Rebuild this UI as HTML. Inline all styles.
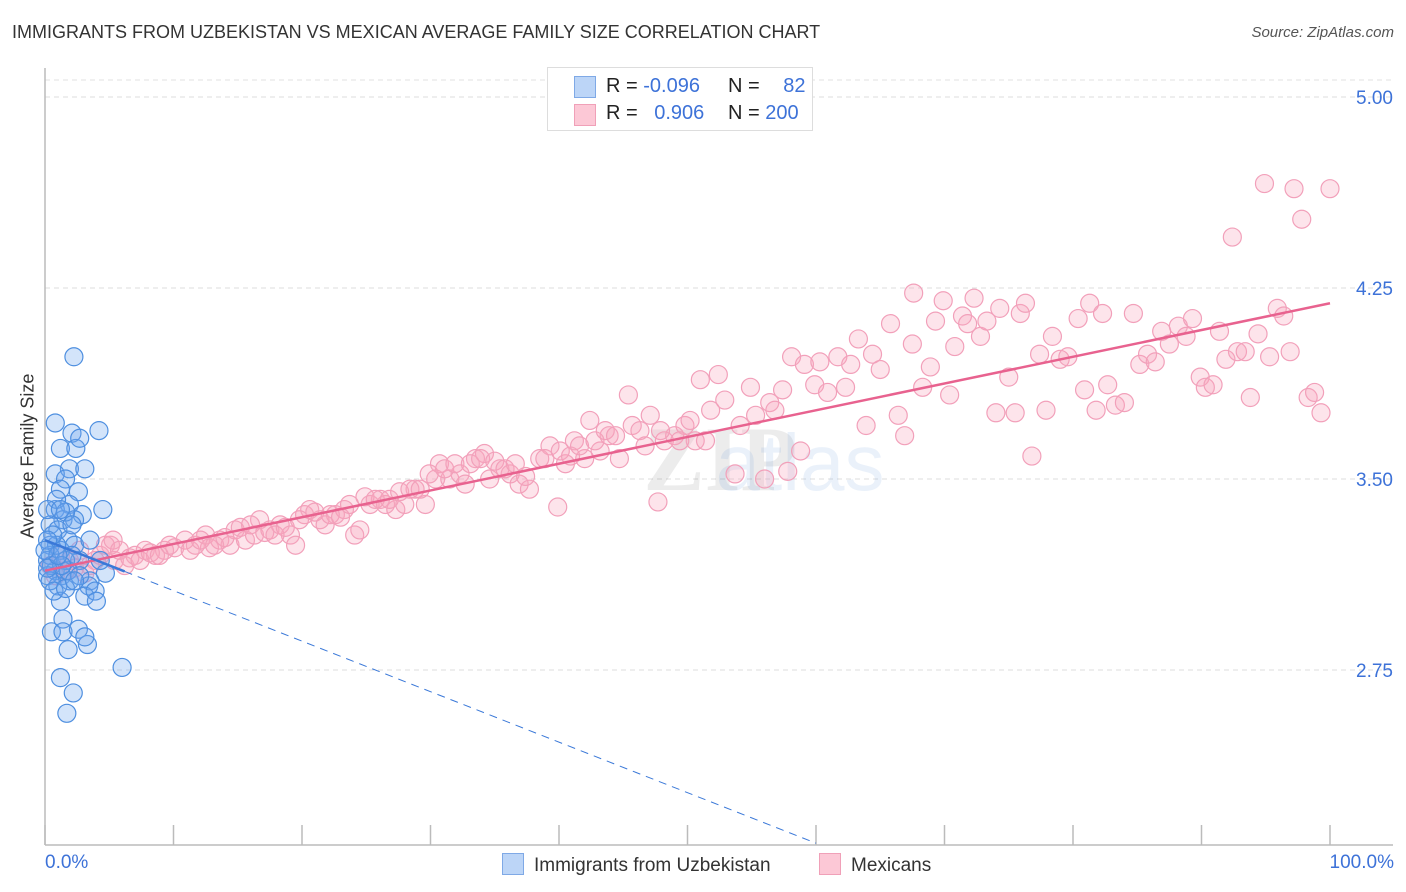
<!DOCTYPE html>
<html><head><meta charset="utf-8"><style>
body{margin:0;background:#fff;font-family:"Liberation Sans",sans-serif;}
#wrap{position:relative;width:1406px;height:892px;overflow:hidden;}
.t{position:absolute;white-space:nowrap;}
</style></head><body>
<div id="wrap">
<div class="t" style="left:12px;top:22px;font-size:18px;color:#333;">IMMIGRANTS FROM UZBEKISTAN VS MEXICAN AVERAGE FAMILY SIZE CORRELATION CHART</div>
<div class="t" style="right:12px;top:24px;font-size:15px;color:#555;font-style:italic;">Source: ZipAtlas.com</div>
<svg id="svg" width="1406" height="892" style="position:absolute;left:0;top:0"></svg>
</div>
<script>
const yTicks=[2.75,3.5,4.25,5.0];
const yTickLabels=["2.75","3.50","4.25","5.00"];
const xTickLabels=["0.0%","100.0%"];
const blueX=[2.25,0.8,2.1,4.2,1.2,2.4,2.7,1.9,3.1,0.8,1.6,1.2,2.6,1.9,0.8,4.5,2.9,1.4,0.4,1.0,2.3,1.8,0.4,1.2,2.3,3.5,0.2,0.8,1.3,1.9,0.2,1.0,2.7,3.5,4.7,3.4,1.2,3.1,3.9,4.0,1.4,0.5,1.4,2.6,3.3,1.8,6.0,1.2,2.2,1.7,3.1,0.4,0.5,0.9,1.6,1.8,0.6,0.2,2.1,1.3,0.4,0.9,0.2,1.6,2.1,1.2,2.7,4.3,0.2,0.7,1.6,2.3,1.0,0];
const blueY=[3.98,3.72,3.68,3.69,3.62,3.62,3.66,3.54,3.54,3.52,3.50,3.46,3.45,3.40,3.38,3.38,3.36,3.34,3.32,3.30,3.34,3.26,3.24,3.22,3.24,3.26,3.18,3.14,3.12,3.10,3.12,3.08,3.18,3.10,3.13,3.08,3.02,3.04,3.06,3.02,2.95,2.90,2.90,2.91,2.85,2.83,2.76,2.72,2.66,2.58,2.88,3.20,3.16,3.24,3.18,3.14,3.28,3.26,3.20,3.16,3.10,3.42,3.38,3.37,3.32,3.38,3.12,3.18,3.15,3.06,3.07,3.10,3.20,3.22];
const pinkX=[0.4,1.2,1.9,2.7,3.5,4.3,5.1,5.4,6.2,7.0,7.8,8.6,9.3,10.1,10.9,11.7,12.5,12.8,13.6,14.4,14.8,15.6,16.3,16.7,17.5,18.3,19.1,19.5,20.2,20.6,21.4,21.8,22.6,23.3,24.1,24.5,25.3,26.1,26.5,27.3,28.0,28.8,29.6,30.4,30.7,31.5,32.3,32.7,33.5,34.2,34.6,35.4,36.2,36.9,37.7,38.5,39.3,39.9,40.5,41.2,42.0,42.4,43.2,43.9,44.7,45.4,45.7,46.3,47.1,47.7,48.2,49.0,49.8,50.6,51.0,51.4,51.8,52.4,52.9,53.7,54.1,54.9,55.3,56.0,56.4,56.8,57.4,57.8,58.1,58.8,59.1,59.9,60.3,60.9,61.7,62.3,62.7,63.3,63.9,64.4,65.0,65.8,66.4,66.9,67.5,67.6,68.3,68.9,69.3,69.9,70.4,70.8,71.4,71.8,72.3,72.8,73.3,74.0,74.3,75.0,75.5,75.9,76.3,76.8,77.4,77.9,78.4,79.0,79.6,80.4,80.9,81.3,81.8,82.3,82.7,83.3,84.0,84.7,85.2,85.8,86.4,86.9,87.5,88.2,88.8,89.3,89.9,90.3,90.9,91.4,91.9,92.4,92.8,93.4,93.8,94.4,94.9,95.3,95.9,96.4,96.9,97.2,97.8,98.3,98.8,99.3,100,0.8,1.6,2.3,3.1,3.9,4.7,5.3,5.8,6.6,7.4,8.2,8.9,9.7,11.3,12.1,13.2,14.0,15.2,16.0,17.1,17.9,18.7,19.8,21.0,22.2,23.0,23.7,24.9,25.7,26.8,27.6,28.4,29.2,29.9,31.1,31.9,33.1,33.9,35.0,35.8,36.6,37.4,38.9,40.1,40.9,41.6,42.8,43.6,44.4,46.7,47.9,49.4,50.2];
const pinkY=[3.16,3.20,3.18,3.22,3.16,3.20,3.24,3.18,3.16,3.20,3.22,3.20,3.22,3.23,3.26,3.24,3.28,3.23,3.26,3.24,3.30,3.26,3.28,3.34,3.30,3.32,3.28,3.24,3.36,3.38,3.34,3.32,3.36,3.38,3.28,3.30,3.40,3.42,3.40,3.38,3.40,3.46,3.40,3.50,3.56,3.50,3.52,3.48,3.58,3.60,3.50,3.54,3.52,3.48,3.46,3.58,3.63,3.39,3.56,3.65,3.58,3.73,3.61,3.67,3.58,3.83,3.71,3.69,3.75,3.41,3.65,3.67,3.71,3.65,3.89,3.65,3.77,3.91,3.81,3.52,3.71,3.86,3.75,3.50,3.80,3.77,3.85,3.53,3.98,3.61,3.95,3.87,3.96,3.84,3.98,3.86,3.95,4.05,3.71,3.99,3.93,4.11,3.75,3.67,4.03,4.23,3.86,3.94,4.12,4.20,3.83,4.02,4.14,4.11,4.21,4.06,4.12,3.76,4.17,3.90,3.76,4.15,4.19,3.59,3.99,3.77,4.06,3.97,3.98,4.13,3.85,4.19,3.77,4.15,3.87,3.79,3.80,4.15,3.95,3.99,3.96,4.08,4.03,4.10,4.06,4.13,3.90,3.86,3.87,4.08,3.97,4.45,4.00,4.00,3.82,4.07,4.66,3.98,4.17,4.14,4.00,4.64,4.52,3.82,3.84,3.76,4.64,3.12,3.14,3.15,3.13,3.18,3.24,3.26,3.22,3.19,3.18,3.21,3.20,3.24,3.22,3.26,3.24,3.27,3.31,3.32,3.29,3.28,3.31,3.34,3.37,3.36,3.35,3.40,3.43,3.42,3.42,3.45,3.46,3.46,3.52,3.54,3.56,3.56,3.58,3.57,3.54,3.56,3.51,3.58,3.61,3.59,3.63,3.65,3.69,3.67,3.63,3.69,3.65,3.73];
const pinkTrend=[3.14,4.19];
const blueTrend=[3.26,2.07];

const NS="http://www.w3.org/2000/svg";
const svg=document.getElementById('svg');
const X0=45,X1=1330,YT=97,YB=670;
function sx(v){return X0+(X1-X0)*v/100;}
function sy(v){return YT+(5-v)*(YB-YT)/2.25;}
function el(tag,attrs,parent){const e=document.createElementNS(NS,tag);for(const k in attrs)e.setAttribute(k,attrs[k]);(parent||svg).appendChild(e);return e;}

// gridlines
let g=el('line',{x1:45,x2:1393,y1:80,y2:80,stroke:'#e2e2e2','stroke-dasharray':'5,4'});


yTicks.forEach((t,i)=>{
  const l=el('line',{x1:45,x2:1393,y1:sy(t),y2:sy(t),stroke:'#dddddd','stroke-dasharray':'5,4'});
  
  
  const tx=el('text',{x:1393,y:sy(t)+7,'text-anchor':'end','font-size':'19','fill':'#3d72d8','font-family':'Liberation Sans, sans-serif'});
  tx.textContent=yTickLabels[i];
  
  
});
// axes
let ax=el('line',{x1:45,x2:45,y1:68,y2:845,stroke:'#bbb','stroke-width':1.5});


ax=el('line',{x1:45,x2:1393,y1:845,y2:845,stroke:'#bbb','stroke-width':1.5});


for(let i=0;i<=10;i++){
  const t=el('line',{x1:sx(i*10),x2:sx(i*10),y1:825,y2:845,stroke:'#bbb','stroke-width':1.5});
  
  
}
// watermark
let wm=el('text',{x:720,y:490,'text-anchor':'middle','font-size':'92','font-weight':'bold','fill':'#000','opacity':'0.07','font-family':'Liberation Serif, serif'});
wm.textContent='ZIP';


wm=el('text',{x:800,y:490,'text-anchor':'middle','font-size':'80','fill':'#5b8fd8','opacity':'0.12','font-family':'Liberation Sans, sans-serif'});
wm.textContent='atlas';



// points
pinkX.forEach((x,i)=>{
  const c=el('circle',{cx:sx(x),cy:sy(pinkY[i]),r:9,fill:'rgba(248,165,190,0.3)',stroke:'#f2a0ba','stroke-width':1.2});
  
  
});
blueX.forEach((x,i)=>{
  const c=el('circle',{cx:sx(x),cy:sy(blueY[i]),r:9,fill:'rgba(110,165,240,0.3)',stroke:'#4e8fe0','stroke-width':1.2});
  
  
});
// trends
let tl=el('line',{x1:sx(0),y1:sy(pinkTrend[0]),x2:sx(100),y2:sy(pinkTrend[1]),stroke:'#e8628f','stroke-width':2.5});


const bAt=x=>blueTrend[0]+(blueTrend[1]-blueTrend[0])*x/60;
tl=el('line',{x1:sx(0),y1:sy(bAt(0)),x2:sx(6.2),y2:sy(bAt(6.2)),stroke:'#3a78d8','stroke-width':2.5});


tl=el('line',{x1:sx(6.2),y1:sy(bAt(6.2)),x2:sx(60),y2:sy(bAt(60)),stroke:'#3a78d8','stroke-width':1,'stroke-dasharray':'8,6'});


</script>
<div class="t" style="left:28px;top:456px;font-size:18px;color:#333;transform:translate(-50%,-50%) rotate(-90deg);">Average Family Size</div>
<div class="t" style="left:45px;top:852px;font-size:19px;color:#3d72d8;">0.0%</div>
<div class="t" style="right:12px;top:852px;font-size:19px;color:#3d72d8;">100.0%</div>
<div style="position:absolute;left:547px;top:67px;width:264px;height:62px;border:1px solid #ddd;background:#fff;font-size:20px;color:#222;">
  <div style="position:absolute;left:26px;top:8px;width:20px;height:20px;background:#bcd5f7;border:1px solid #7fa9e6;"></div>
  <div class="t" style="left:58px;top:7px;">R = <span style="color:#3d72d8">-0.096</span></div>
  <div class="t" style="left:180px;top:7px;">N = <span style="color:#3d72d8;margin-left:18px">82</span></div>
  <div style="position:absolute;left:26px;top:36px;width:20px;height:20px;background:#fcc8d6;border:1px solid #f0a0b8;"></div>
  <div class="t" style="left:58px;top:34px;">R = <span style="color:#3d72d8;margin-left:11px">0.906</span></div>
  <div class="t" style="left:180px;top:34px;">N = <span style="color:#3d72d8">200</span></div>
</div>
<div style="position:absolute;left:502px;top:853px;font-size:19px;color:#333;">
  <span style="display:inline-block;width:20px;height:20px;background:#bcd5f7;border:1px solid #7fa9e6;vertical-align:-4px;margin-right:10px;"></span>Immigrants from Uzbekistan</div>
<div style="position:absolute;left:819px;top:853px;font-size:19px;color:#333;">
  <span style="display:inline-block;width:20px;height:20px;background:#fcc8d6;border:1px solid #f0a0b8;vertical-align:-4px;margin-right:10px;"></span>Mexicans</div>
</body></html>
